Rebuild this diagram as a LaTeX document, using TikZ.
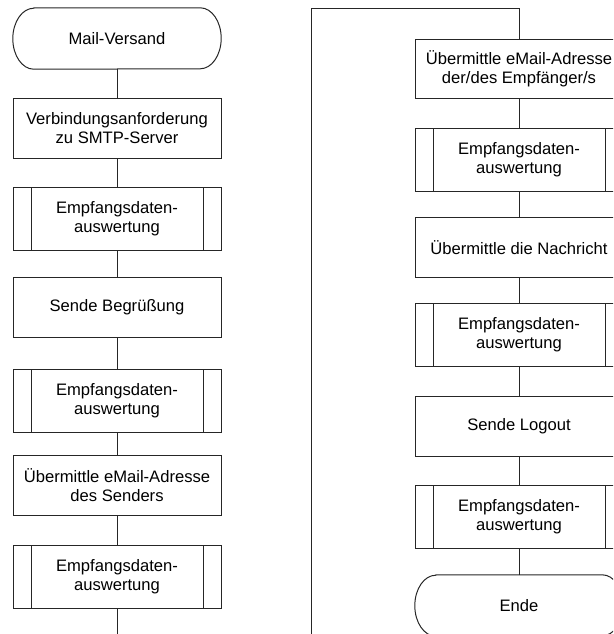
\documentclass[tikz,border=0pt]{standalone}
\usepackage{fontspec}
\setmainfont{Liberation Sans}
\definecolor{lc}{gray}{0.15}
\tikzset{
  every node/.style={font=\fontsize{16.6}{19}\selectfont, align=center, inner sep=0pt, text=black},
  proc/.style={draw=lc, line width=1pt, minimum width=208pt, minimum height=60pt},
  sub/.style={proc, minimum height=63pt,
    path picture={\draw[lc, line width=1pt]
      ([xshift=18pt]path picture bounding box.north west) -- ([xshift=18pt]path picture bounding box.south west)
      ([xshift=-18pt]path picture bounding box.north east) -- ([xshift=-18pt]path picture bounding box.south east);}},
  term/.style={minimum width=208pt, minimum height=61pt},
  termline/.style={draw=lc, line width=1pt},
  conn/.style={draw=lc, line width=1pt}
}
\begin{document}
\begin{tikzpicture}[x=1pt, y=-1pt]
\useasboundingbox (0,0) rectangle (613,634);
\clip (0,0) rectangle (613,634);
% left column
\node[term] (start) at (117,38.5) {Mail-Versand};
\node[proc] (req) at (117,128) {Verbindungsanforderung\\zu SMTP-Server};
\node[sub] (e1) at (117,218.5) {Empfangsdaten-\\auswertung};
\node[proc] (greet) at (117,307.5) {Sende Begrüßung};
\node[sub] (e2) at (117,400.5) {Empfangsdaten-\\auswertung};
\node[proc] (sender) at (117,485.5) {Übermittle eMail-Adresse\\des Senders};
\node[sub] (e3) at (117,576.5) {Empfangsdaten-\\auswertung};
% right column
\node[proc, minimum height=58pt] (rcpt) at (519,69) {Übermittle eMail-Adresse\\der/des Empfänger/s};
\node[sub] (e4) at (519,159.5) {Empfangsdaten-\\auswertung};
\node[proc] (msg) at (519,247.5) {Übermittle die Nachricht};
\node[sub] (e5) at (519,335) {Empfangsdaten-\\auswertung};
\node[proc] (logout) at (519,426) {Sende Logout};
\node[sub] (e6) at (519,516.5) {Empfangsdaten-\\auswertung};
\node[term] (end) at (519,605.5) {Ende};
% terminal outlines
\foreach \t in {start,end}{
  \draw[termline] ([xshift=21pt]\t.north west) -- ([xshift=-21pt]\t.north east)
    arc[start angle=90, end angle=-90, x radius=21pt, y radius=30.5pt]
    -- ([xshift=21pt]\t.south west)
    arc[start angle=270, end angle=90, x radius=21pt, y radius=30.5pt] -- cycle;
}
% connectors
\coordinate (lb) at (117,640);
\coordinate (rb) at (311,640);
\coordinate (tp) at (519,9);
\draw[conn] (start) -- (req);
\draw[conn] (req) -- (e1);
\draw[conn] (e1) -- (greet);
\draw[conn] (greet) -- (e2);
\draw[conn] (e2) -- (sender);
\draw[conn] (sender) -- (e3);
\draw[conn] (e3) -- (lb);
\draw[conn] (rb) |- (tp) -- (rcpt);
\draw[conn] (rcpt) -- (e4);
\draw[conn] (e4) -- (msg);
\draw[conn] (msg) -- (e5);
\draw[conn] (e5) -- (logout);
\draw[conn] (logout) -- (e6);
\draw[conn] (e6) -- (end);
\end{tikzpicture}
\end{document}
